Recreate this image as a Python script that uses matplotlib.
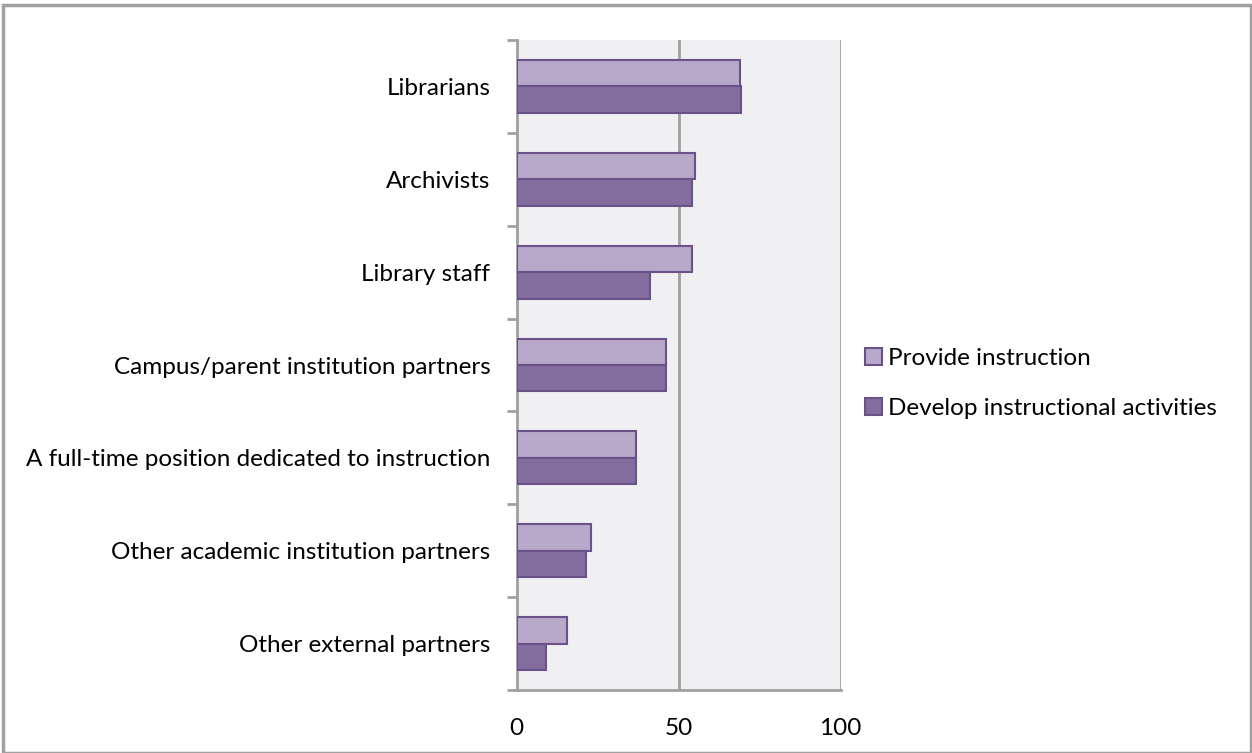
import matplotlib
matplotlib.use("Agg")
import matplotlib.pyplot as plt
import numpy as np
from matplotlib.patches import Rectangle

categories = ["Librarians", "Archivists", "Library staff",
              "Campus/parent institution partners",
              "A full-time position dedicated to instruction",
              "Other academic institution partners",
              "Other external partners"]
provide = [68.8, 55.0, 54.2, 46.0, 36.8, 22.8, 15.4]
develop = [69.1, 54.2, 41.1, 46.0, 36.8, 21.3, 9.0]
series_names = ["Provide instruction", "Develop instructional activities"]
xticks = [0, 50, 100]

plt.rcParams['font.family'] = ['Lato', 'DejaVu Sans']

W, H = 1252, 753
fig = plt.figure(figsize=(W/100, H/100), dpi=100)
ax = fig.add_axes([516.7/W, 1 - 690/H, (840.7-516.7)/W, (690-40)/H])

light = "#B8A9CA"
dark = "#836D9E"
edge = "#6A5289"
bg = "#F0F0F3"
grid = "#A0A0A0"
FS = 17.5

n = len(categories)
ypos = np.arange(n)[::-1]  # top category at highest y
bh = 0.285
ax.barh(ypos + bh/2, provide, height=bh, color=light, edgecolor=edge, linewidth=1.5, label=series_names[0], zorder=3)
ax.barh(ypos - bh/2, develop, height=bh, color=dark, edgecolor=edge, linewidth=1.5, label=series_names[1], zorder=3)

ax.set_xlim(0, 100)
ax.set_ylim(-0.5, n - 0.5)
ax.set_facecolor(bg)
ax.set_xticks(xticks)
ax.set_xticklabels([str(t) for t in xticks], fontsize=FS)
ax.set_yticks(ypos)
ax.set_yticklabels(categories, fontsize=FS)
ax.tick_params(axis='y', length=0, pad=19)
ax.tick_params(axis='x', length=0, pad=20)
# minor ticks at category boundaries
ax.set_yticks(np.arange(-0.5, n, 1.0), minor=True)
ax.tick_params(axis='y', which='minor', length=7, width=2, color=grid, direction='out')
ax.set_xticks(xticks, minor=True)
ax.tick_params(axis='x', which='minor', length=7, width=2, color=grid, direction='out')

for x in [50, 100]:
    ax.axvline(x, color=grid, lw=2, zorder=1)
for s in ['top', 'right']:
    ax.spines[s].set_visible(False)
for s in ['left', 'bottom']:
    ax.spines[s].set_color(grid)
    ax.spines[s].set_linewidth(2)

leg = fig.legend(loc='upper left', bbox_to_anchor=(855/W, 1 - 338/H), frameon=False,
                 fontsize=FS, handlelength=0.7, handleheight=0.7, handletextpad=0.25,
                 labelspacing=1.2, borderaxespad=0)

# outer frame
fig.patches.append(Rectangle((3/W, 0), 1 - 3/W - 1/W, 1 - 5/H, transform=fig.transFigure,
                             fill=False, edgecolor="#A0A0A0", linewidth=2.5))

fig.savefig("out.png", dpi=100, facecolor="white")
